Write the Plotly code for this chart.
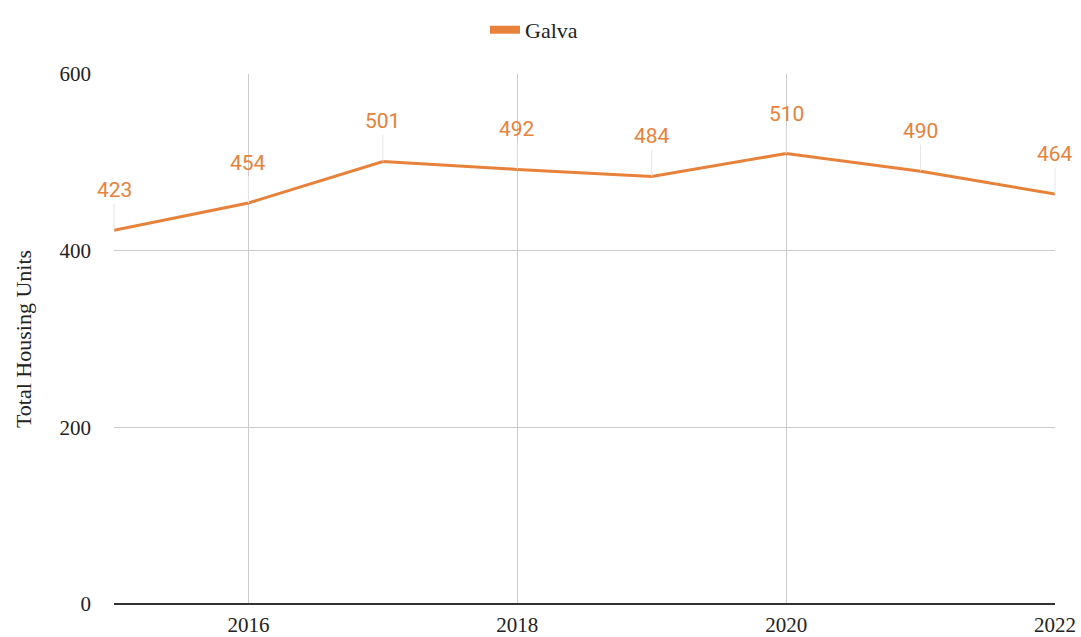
import plotly.graph_objects as go

years = [2015, 2016, 2017, 2018, 2019, 2020, 2021, 2022]
housing_units = [423, 454, 501, 492, 484, 510, 490, 464]
series_name = "Galva"

ORANGE = "#E8813A"
GRID = "#CCCCCC"
SERIF = "Liberation Serif, Times New Roman, serif"

fig = go.Figure()

fig.add_trace(
    go.Scatter(
        x=years,
        y=housing_units,
        mode="lines",
        name=series_name,
        line=dict(color=ORANGE, width=3),
        showlegend=False,
        hoverinfo="x+y",
    )
)
# legend-only entry so the swatch looks like a short thick bar
fig.add_trace(
    go.Scatter(
        x=[None],
        y=[None],
        mode="lines",
        name=series_name,
        line=dict(color=ORANGE, width=8),
        showlegend=True,
    )
)

# value labels with thin leader lines
for yr, val in zip(years, housing_units):
    fig.add_annotation(
        x=yr,
        y=val,
        text=str(val),
        showarrow=True,
        arrowhead=0,
        arrowwidth=1,
        arrowcolor="#E6E6E6",
        ax=0,
        ay=-40,
        font=dict(family="Roboto, sans-serif", size=21, color=ORANGE),
    )

fig.update_layout(
    width=1081,
    height=637,
    paper_bgcolor="white",
    plot_bgcolor="white",
    margin=dict(l=114, r=26, t=74, b=33, autoexpand=False),
    showlegend=True,
    legend=dict(
        orientation="h",
        xref="container",
        x=0.494,
        xanchor="center",
        yref="container",
        y=0.953,
        yanchor="middle",
        font=dict(family=SERIF, size=22, color="#222222"),
        itemwidth=30,
    ),
)

fig.update_xaxes(
    range=[2015, 2022],
    tickvals=[2016, 2018, 2020, 2022],
    ticktext=["2016", "2018", "2020", "2022"],
    showgrid=True,
    gridcolor=GRID,
    gridwidth=1,
    zeroline=False,
    showline=False,
    automargin=False,
    tickfont=dict(family=SERIF, size=21, color="#222222"),
    ticks="",
    ticklabelstandoff=6,
)
fig.update_yaxes(
    range=[0, 600],
    tickvals=[0, 200, 400, 600],
    showgrid=True,
    gridcolor=GRID,
    gridwidth=1,
    zeroline=True,
    zerolinecolor="#333333",
    zerolinewidth=2,
    automargin=False,
    tickfont=dict(family=SERIF, size=21, color="#222222"),
    ticks="",
    ticklabelstandoff=22,
    title=dict(
        text="Total Housing Units",
        font=dict(family=SERIF, size=22, color="#222222"),
        standoff=21,
    ),
)

# drop the default page margin so the figure fills the window
fig.write_html(
    "out.html",
    config={"displayModeBar": False},
    post_script="document.body.style.margin='0';document.body.style.overflow='hidden';",
)
